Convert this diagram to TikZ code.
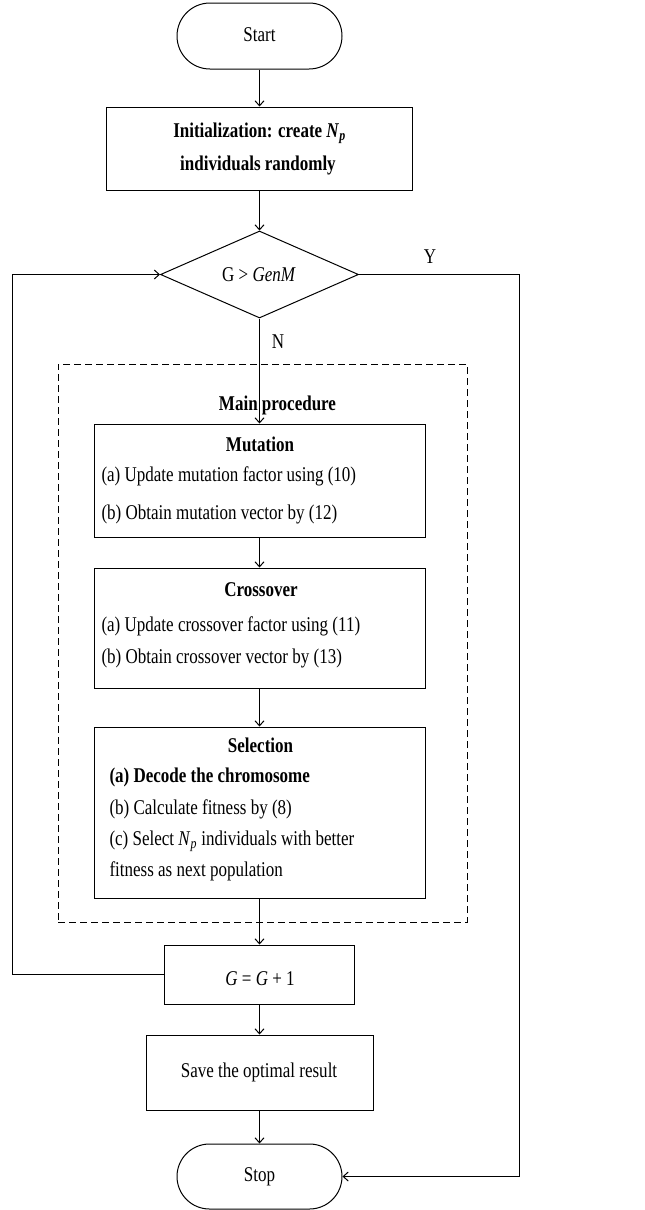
\documentclass[tikz,border=0pt]{standalone}
\usepackage{fontspec}
\setmainfont{Liberation Serif}[FakeStretch=0.81]
\usetikzlibrary{shapes.geometric,shapes.misc,arrows.meta}
\newcommand{\Np}{\textit{N}\textsubscript{\textit{p}}}
\begin{document}
\begin{tikzpicture}[x=1pt,y=-1pt,line width=1pt,
  >={Straight Barb[length=5pt,width=9pt]},
  box/.style={draw,rectangle,inner sep=0pt},
  term/.style={draw,rounded rectangle,inner sep=0pt,minimum width=165pt},
  txt/.style={inner sep=0pt,yshift=-3.5pt,font=\fontsize{21}{25}\selectfont},
  btxt/.style={inner sep=0pt,yshift=-3.5pt,font=\fontsize{21}{25}\selectfont\bfseries},
  dashbox/.style={draw,rectangle,inner sep=0pt,dash pattern=on 7pt off 4pt}]
\useasboundingbox (0,0) rectangle (645,1210);

% frame of main procedure
\node[dashbox,minimum width=409pt,minimum height=558pt] (main) at (262.5,643) {};

% nodes
\node[term,minimum height=66pt] (start) at (259.5,36) {};
\node[txt,anchor=mid] (startT) at (259.5,36) {Start};

\node[box,minimum width=306pt,minimum height=83pt] (init) at (259.5,148.5) {};
\node[btxt,anchor=mid] (initA) at (259.5,132) {Initialization: create \Np};
\node[btxt,anchor=mid] (initB) at (258,165) {individuals randomly};

\node[draw,diamond,inner sep=0pt,minimum width=198pt,minimum height=87pt] (dec) at (259.5,274.5) {};
\node[txt,anchor=mid] (decT) at (259,276) {G > \textit{GenM}};

\node[btxt,anchor=mid] (mainT) at (277.5,405) {Main procedure};

\node[box,minimum width=331pt,minimum height=113pt] (mut) at (259.5,480.5) {};
\node[btxt,anchor=mid] (mutT) at (260,446) {Mutation};
\node[txt,anchor=mid west] (mutA) at (101,476) {(a) Update mutation factor using (10)};
\node[txt,anchor=mid west] (mutB) at (101,514) {(b) Obtain mutation vector by (12)};

\node[box,minimum width=331pt,minimum height=120pt] (cro) at (259.5,628) {};
\node[btxt,anchor=mid] (croT) at (261,591) {Crossover};
\node[txt,anchor=mid west] (croA) at (101,626) {(a) Update crossover factor using (11)};
\node[txt,anchor=mid west] (croB) at (101,658) {(b) Obtain crossover vector by (13)};

\node[box,minimum width=331pt,minimum height=171pt] (sel) at (259.5,812.5) {};
\node[btxt,anchor=mid] (selT) at (260.5,747) {Selection};
\node[btxt,anchor=mid west] (selA) at (109,777) {(a) Decode the chromosome};
\node[txt,anchor=mid west] (selB) at (109,809) {(b) Calculate fitness by (8)};
\node[txt,anchor=mid west] (selC) at (109,840) {(c) Select \Np{} individuals with better};
\node[txt,anchor=mid west] (selD) at (109,871) {fitness as next population};

\node[box,minimum width=190pt,minimum height=59pt] (inc) at (259.5,974.5) {};
\node[txt,anchor=mid] (incT) at (260,980) {\textit{G} = \textit{G} + 1};

\node[box,minimum width=227pt,minimum height=75pt] (save) at (259.5,1072.5) {};
\node[txt,anchor=mid] (saveT) at (259,1072) {Save the optimal result};

\node[term,minimum height=65pt] (stop) at (259.5,1176.5) {};
\node[txt,anchor=mid] (stopT) at (259.5,1176) {Stop};

% labels
\node[txt,anchor=mid] (Y) at (430,258) {Y};
\node[txt,anchor=mid] (N) at (278,343) {N};

% connectors
\draw[->] (start) -- (init);
\draw[->] (init) -- (dec);
\draw[->] (dec) -- (mut);
\draw[->] (mut) -- (cro);
\draw[->] (cro) -- (sel);
\draw[->] (sel) -- (inc);
\draw[->] (inc) -- (save);
\draw[->] (save) -- (stop);
\coordinate (L1) at (12,974.5);
\coordinate (L2) at (12,274.5);
\draw[->] (inc.west) -- (L1) -- (L2) -- (dec.west);
\coordinate (R1) at (519,274.5);
\coordinate (R2) at (519,1176.5);
\draw[->] (dec.east) -- (R1) -- (R2) -- (stop.east);
\end{tikzpicture}
\end{document}
